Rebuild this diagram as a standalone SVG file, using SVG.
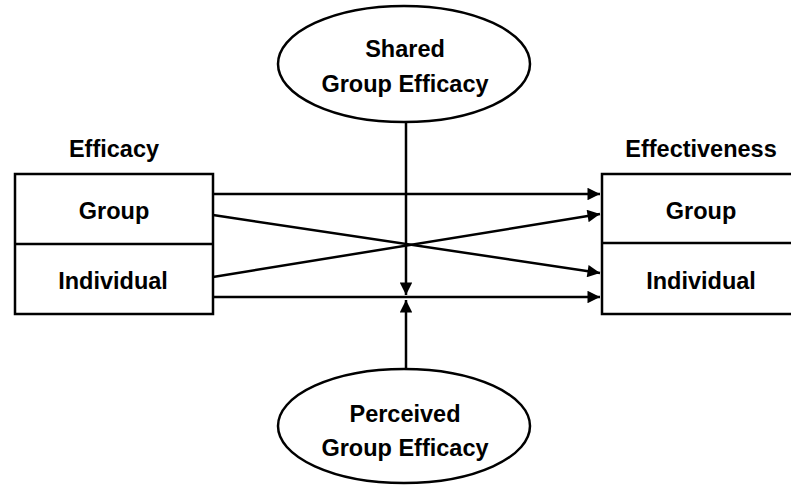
<svg xmlns="http://www.w3.org/2000/svg" width="791" height="486" viewBox="0 0 791 486">
<style>
.box{fill:#fff;stroke:#000;stroke-width:2.5}
.ln{stroke:#000;stroke-width:2.5;fill:none}
.t{font-family:"Liberation Sans",Arial,sans-serif;font-weight:bold;font-size:23.5px;fill:#000;text-anchor:middle}
</style>
<defs>
<marker id="ah" viewBox="0 0 10 10" refX="10" refY="5" markerWidth="6" markerHeight="5" markerUnits="strokeWidth" orient="auto">
<path d="M0,0 L10,5 L0,10 z" fill="#000"/>
</marker>
</defs>
<rect width="791" height="486" fill="#fff"/>
<g id="efficacy">
<text class="t" x="114" y="157">Efficacy</text>
<rect class="box" x="15" y="174" width="198" height="140"/>
<line class="ln" x1="15" y1="244" x2="213" y2="244"/>
<text class="t" x="114" y="219">Group</text>
<text class="t" x="113" y="289">Individual</text>
</g>
<g id="effectiveness">
<text class="t" x="701" y="157">Effectiveness</text>
<rect class="box" x="602" y="174" width="200" height="140"/>
<line class="ln" x1="602" y1="243" x2="791" y2="243"/>
<text class="t" x="701" y="219">Group</text>
<text class="t" x="701" y="289">Individual</text>
</g>
<g id="shared">
<ellipse class="box" cx="404" cy="64" rx="126" ry="58"/>
<text class="t" x="405" y="57">Shared</text>
<text class="t" x="405" y="92">Group Efficacy</text>
</g>
<g id="perceived">
<ellipse class="box" cx="404" cy="426" rx="126" ry="57"/>
<text class="t" x="405" y="422">Perceived</text>
<text class="t" x="405" y="456">Group Efficacy</text>
</g>
<g id="connectors">
<line class="ln" x1="213" y1="194" x2="600" y2="194" marker-end="url(#ah)"/>
<line class="ln" x1="213" y1="215" x2="600" y2="273" marker-end="url(#ah)"/>
<line class="ln" x1="213" y1="277" x2="600" y2="214" marker-end="url(#ah)"/>
<line class="ln" x1="213" y1="297" x2="600" y2="297" marker-end="url(#ah)"/>
<line class="ln" x1="406" y1="122" x2="406" y2="295" marker-end="url(#ah)"/>
<line class="ln" x1="406" y1="369" x2="406" y2="300" marker-end="url(#ah)"/>
</g>
</svg>
